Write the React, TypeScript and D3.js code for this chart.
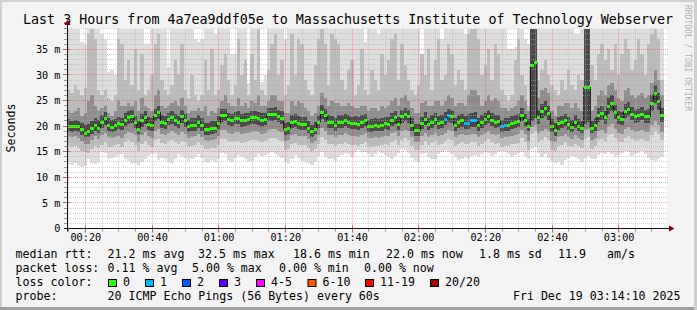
import React from "react";
import * as d3 from "d3";

// ---------------- data ----------------
const TITLE = "Last 3 Hours from 4a7ea9ddf05e to Massachusetts Institute of Technology Webserver";
const START = new Date(2025, 11, 19, 0, 14, 30);
const END = new Date(2025, 11, 19, 3, 14, 30);
const Y_MAX = 39.0625;
const Y_MAJOR = [0, 5, 10, 15, 20, 25, 30, 35];

// median rtt (ms), one per minute
const MEDIAN = [
  20.0, 19.9, 20.0, 19.9, 19.3, 18.6, 18.9, 19.6, 20.2, 19.6, 20.8, 21.5, 20.2, 19.8, 20.2, 20.5, 20.4, 21.1, 21.6, 21.8, 20.7, 19.4, 21.1, 21.7, 20.4, 20.2, 22.1, 22.7, 20.8,
  20.6, 21.3, 21.6, 21.1, 20.7, 21.8, 21.0, 19.9, 20.2, 20.2, 20.8, 20.2, 19.3, 19.3, 19.5, 19.6, 20.5, 22.0, 22.1, 21.3, 21.1, 21.5, 21.5, 21.0, 21.1, 21.3, 21.6, 21.6, 21.5, 21.1,
  21.3, 22.2, 22.2, 22.3, 21.9, 21.5, 19.3, 19.5, 20.8, 20.9, 20.5, 20.4, 20.4, 19.6, 18.9, 19.4, 20.8, 22.7, 22.0, 20.8, 20.7, 20.2, 20.8, 20.8, 21.1, 20.8, 20.5, 20.5, 20.4, 20.8,
  21.1, 19.9, 19.9, 20.2, 20.0, 20.2, 20.5, 20.4, 21.1, 21.6, 20.4, 21.8, 22.2, 21.8, 20.2, 19.1, 19.1, 20.5, 21.3, 20.3, 20.8, 21.3, 20.5, 20.8, 21.3, 22.0, 21.8, 20.2, 20.8,
  21.0, 20.6, 20.6, 21.0, 21.0, 20.2, 20.8, 21.3, 21.9, 21.1, 20.8, 20.9, 19.9, 20.2, 20.2, 20.6, 20.8, 20.9, 22.1, 21.1, 20.0, 31.8, 32.5, 21.6, 22.8, 23.5, 22.5, 19.9, 19.1, 20.5, 20.7,
  21.1, 20.4, 19.8, 20.8, 20.0, 19.6, 27.5, 27.6, 19.6, 20.2, 22.0, 22.5, 21.6, 23.9, 24.5, 22.7, 21.6, 21.3, 22.9, 23.3, 22.3, 21.8, 22.0, 22.3, 21.8, 21.8, 24.4, 26.3, 24.9, 22.0,
];

// samples with 1 of 20 pings lost
const LOSS_ONE = [113, 114, 119, 120, 121, 122, 130, 131];

// smoke: sorted ping ranks (ms)
const P1 = [
  12.6, 12.5, 12.8, 12.2, 12.0, 12.3, 13.5, 12.8, 12.6, 13.0, 14.9, 14.8, 13.5, 13.8, 14.0, 14.4, 14.6, 13.6, 13.2, 12.8, 12.7, 12.5, 13.0, 13.6, 14.2, 14.6, 14.8, 13.4, 13.8,
  13.5, 13.0, 12.8, 13.5, 14.5, 14.2, 13.8, 13.2, 13.5, 14.0, 14.6, 13.8, 13.0, 12.8, 13.3, 12.9, 13.6, 14.8, 14.5, 13.4, 13.0, 13.8, 14.3, 14.0, 13.5, 12.9, 13.2, 14.0, 14.5, 14.2,
  14.3, 14.7, 15.0, 14.5, 14.2, 13.8, 13.0, 12.6, 13.5, 14.3, 13.8, 13.2, 13.0, 12.8, 12.5, 13.0, 14.2, 15.0, 14.0, 13.6, 13.5, 13.2, 14.0, 14.3, 14.8, 14.5, 14.0, 15.0, 15.3, 15.0,
  15.0, 14.6, 14.0, 14.5, 15.2, 14.8, 14.3, 14.0, 13.5, 14.2, 14.8, 15.5, 15.3, 14.8, 13.8, 13.2, 13.0, 14.5, 14.8, 14.0, 13.6, 13.5, 14.5, 14.9, 15.3, 15.0, 14.6, 14.0, 13.4,
  13.6, 13.9, 13.5, 14.2, 14.4, 14.0, 14.6, 15.0, 14.8, 14.2, 14.5, 14.9, 15.2, 15.0, 14.5, 14.0, 14.4, 14.7, 15.0, 14.2, 13.5, 15.5, 16.0, 14.8, 14.0, 14.5, 13.8, 13.2, 12.8, 13.0, 12.5,
  13.4, 13.8, 14.2, 14.0, 13.5, 13.0, 13.8, 14.2, 13.5, 13.6, 14.3, 14.8, 14.5, 15.0, 14.6, 14.0, 14.3, 14.8, 15.2, 14.9, 14.2, 14.6, 14.8, 15.2, 14.5, 13.8, 13.4, 13.2, 13.6, 14.0,
];
const P4 = [
  16.3, 16.0, 16.2, 15.8, 15.2, 15.0, 14.8, 15.5, 16.2, 15.8, 16.4, 16.8, 16.0, 16.0, 16.3, 16.5, 16.0, 16.8, 17.2, 16.9, 16.4, 15.2, 16.6, 17.0, 16.3, 16.0, 17.2, 17.5, 16.7,
  16.6, 17.0, 17.2, 16.9, 16.6, 17.0, 16.8, 16.0, 16.2, 16.4, 16.8, 16.3, 15.6, 15.5, 15.7, 15.8, 16.4, 17.4, 17.5, 17.0, 16.8, 17.1, 17.0, 16.7, 16.9, 17.0, 17.2, 17.3, 17.1, 16.8,
  17.0, 17.5, 17.6, 17.6, 17.3, 17.1, 15.4, 15.6, 16.6, 16.7, 16.4, 16.3, 16.3, 15.8, 15.1, 15.5, 16.5, 17.8, 17.3, 16.6, 16.5, 16.1, 16.6, 16.6, 16.9, 16.6, 16.4, 16.3, 16.2, 16.6,
  16.9, 16.0, 16.0, 16.2, 16.1, 16.3, 16.5, 16.4, 16.9, 17.2, 16.3, 17.3, 17.6, 17.3, 16.2, 15.3, 15.3, 16.4, 17.0, 16.3, 16.7, 17.0, 16.3, 16.6, 17.0, 17.5, 17.3, 16.2, 16.6,
  16.8, 16.5, 16.5, 16.8, 16.8, 16.2, 16.6, 17.0, 17.4, 16.8, 16.6, 16.7, 16.0, 16.2, 16.2, 16.5, 16.6, 16.7, 17.6, 16.8, 15.4, 18.5, 19.0, 16.9, 17.2, 17.8, 17.3, 15.4, 15.2, 16.2, 16.4,
  16.8, 16.2, 15.9, 16.6, 16.1, 15.7, 17.5, 17.8, 15.6, 16.1, 17.2, 17.5, 17.0, 18.2, 18.5, 17.6, 17.0, 16.8, 17.7, 18.0, 17.4, 17.1, 17.2, 17.4, 17.0, 17.1, 18.3, 19.0, 18.4, 17.2,
];
const P7 = [
  18.0, 17.8, 18.0, 17.6, 17.0, 16.6, 16.5, 17.3, 18.0, 17.5, 18.2, 18.6, 17.8, 17.6, 17.9, 18.0, 17.7, 18.5, 18.9, 18.6, 18.2, 16.8, 18.3, 18.8, 18.0, 17.6, 19.0, 19.5, 18.4,
  18.3, 18.7, 19.0, 18.6, 18.3, 18.8, 18.5, 17.7, 17.9, 18.0, 18.4, 17.9, 17.2, 17.0, 17.3, 17.4, 18.0, 19.2, 19.3, 18.7, 18.5, 18.9, 18.8, 18.4, 18.6, 18.7, 18.9, 19.0, 18.8, 18.5,
  18.7, 19.3, 19.4, 19.4, 19.1, 18.9, 17.0, 17.2, 18.3, 18.4, 18.1, 18.0, 18.0, 17.4, 16.7, 17.1, 18.2, 19.6, 19.1, 18.3, 18.2, 17.8, 18.3, 18.3, 18.6, 18.3, 18.1, 18.0, 17.9, 18.3,
  18.6, 17.6, 17.6, 17.8, 17.7, 17.9, 18.1, 18.0, 18.6, 18.9, 18.0, 19.0, 19.3, 19.0, 17.8, 16.9, 16.9, 18.0, 18.7, 17.9, 18.3, 18.7, 18.0, 18.3, 18.7, 19.2, 19.0, 17.8, 18.3,
  18.5, 18.2, 18.2, 18.5, 18.5, 17.8, 18.3, 18.7, 19.1, 18.5, 18.3, 18.4, 17.6, 17.8, 17.8, 18.1, 18.3, 18.4, 19.3, 18.5, 17.0, 19.8, 20.2, 18.6, 19.0, 19.5, 19.0, 17.0, 16.8, 17.9, 18.1,
  18.5, 17.9, 17.5, 18.3, 17.7, 17.3, 19.2, 19.5, 17.2, 17.7, 19.0, 19.3, 18.7, 20.0, 20.4, 19.4, 18.7, 18.5, 19.5, 19.8, 19.2, 18.8, 19.0, 19.2, 18.8, 18.8, 20.2, 21.0, 20.3, 18.9,
];
const P9 = [
  19.0, 18.9, 19.0, 18.8, 18.3, 17.8, 17.9, 18.5, 19.1, 18.6, 19.6, 20.3, 19.1, 18.8, 19.1, 19.4, 19.3, 20.0, 20.4, 20.6, 19.6, 18.4, 19.9, 20.5, 19.3, 19.1, 20.9, 21.4, 19.7,
  19.5, 20.2, 20.4, 20.0, 19.6, 20.6, 19.9, 18.9, 19.1, 19.1, 19.7, 19.1, 18.3, 18.3, 18.5, 18.6, 19.4, 20.8, 20.9, 20.2, 20.0, 20.4, 20.4, 19.9, 20.0, 20.2, 20.4, 20.5, 20.3, 20.0,
  20.2, 21.0, 21.0, 21.1, 20.8, 20.4, 18.3, 18.4, 19.7, 19.8, 19.4, 19.3, 19.3, 18.6, 17.9, 18.4, 19.7, 21.4, 20.8, 19.7, 19.6, 19.1, 19.7, 19.7, 20.0, 19.7, 19.4, 19.4, 19.3, 19.7,
  20.0, 18.9, 18.9, 19.1, 19.0, 19.1, 19.4, 19.3, 20.0, 20.4, 19.3, 20.6, 21.0, 20.6, 19.1, 18.1, 18.1, 19.4, 20.2, 19.2, 19.7, 20.2, 19.4, 19.7, 20.2, 20.8, 20.6, 19.1, 19.7,
  19.9, 19.5, 19.5, 19.9, 19.9, 19.1, 19.7, 20.2, 20.7, 20.0, 19.7, 19.8, 18.9, 19.1, 19.1, 19.5, 19.7, 19.8, 20.9, 20.0, 19.0, 21.0, 21.5, 20.4, 21.5, 22.0, 21.2, 18.8, 18.0, 19.3, 19.6,
  20.0, 19.3, 18.8, 19.7, 19.0, 18.6, 20.5, 20.8, 18.6, 19.1, 20.8, 21.2, 20.4, 22.4, 22.9, 21.4, 20.4, 20.2, 21.6, 22.0, 21.1, 20.6, 20.8, 21.1, 20.6, 20.6, 22.9, 24.5, 23.2, 20.8,
];
const P12 = [
  21.3, 21.0, 21.2, 21.0, 20.6, 20.2, 20.5, 21.0, 21.5, 21.1, 22.2, 22.8, 21.6, 21.2, 21.4, 21.8, 21.6, 22.5, 23.0, 23.2, 22.0, 21.0, 22.4, 23.0, 21.8, 21.5, 23.4, 24.0, 22.2,
  22.0, 22.6, 23.0, 22.4, 22.0, 23.2, 22.3, 21.2, 21.5, 21.6, 22.1, 21.5, 20.7, 20.6, 20.9, 21.0, 21.9, 23.3, 23.4, 22.6, 22.4, 22.8, 22.9, 22.3, 22.5, 22.6, 23.0, 22.9, 22.8, 22.5,
  22.6, 23.6, 23.5, 23.7, 23.2, 22.9, 20.7, 20.8, 22.1, 22.3, 21.9, 21.7, 21.8, 21.0, 20.3, 20.8, 22.2, 24.1, 23.3, 22.2, 22.0, 21.6, 22.1, 22.2, 22.4, 22.1, 21.8, 21.9, 21.7, 22.1,
  22.4, 21.2, 21.3, 21.5, 21.3, 21.6, 21.8, 21.7, 22.5, 23.0, 21.8, 23.1, 23.6, 23.2, 21.5, 20.4, 20.5, 21.8, 22.7, 21.6, 22.2, 22.6, 21.9, 22.1, 22.7, 23.4, 23.1, 21.6, 22.1,
  22.3, 21.9, 22.4, 22.6, 22.7, 21.6, 22.1, 22.6, 23.2, 22.5, 22.1, 22.2, 21.2, 21.5, 21.5, 21.9, 22.1, 22.3, 23.5, 22.4, 21.4, 40, 40, 23.2, 24.3, 25.0, 24.0, 21.3, 20.6, 21.8, 22.0,
  22.4, 21.8, 21.2, 22.1, 21.4, 21.0, 40, 40, 21.0, 21.6, 23.5, 24.0, 23.0, 25.4, 26.0, 24.2, 23.0, 22.7, 24.4, 24.8, 23.8, 23.2, 23.4, 23.8, 23.2, 23.3, 26.0, 28.0, 26.5, 23.5,
];
const P14 = [
  23, 22.5, 23, 23.5, 22, 22.5, 25, 26, 24, 23,
  23.5, 24, 22.5, 22, 23, 25, 24, 24, 24.5, 24,
  25, 23, 25.5, 24, 23.5, 23, 26, 27, 24, 23.5,
  24, 24.5, 25, 24, 25.5, 24, 22.5, 23, 23, 23.5,
  23, 24, 22, 23, 22.5, 23.5, 25, 26, 24.5, 24,
  24, 25.5, 24, 24.5, 23.5, 25, 24.5, 26, 24, 24,
  25, 26, 26, 25, 25, 22.5, 22.5, 25, 24, 25,
  24.5, 23.5, 23, 22, 22.5, 24, 26.5, 25.5, 24, 25,
  24.5, 24.5, 24, 24, 24.5, 24, 23.5, 23.5, 24, 24,
  23, 23.5, 23.5, 23, 24, 23.5, 24, 25, 25.5, 24,
  25.5, 26, 25, 23.5, 22.5, 22.5, 24.5, 25, 24, 24,
  25, 25, 24, 25, 26, 25.5, 24, 24.5, 24.5, 24,
  26, 27, 27, 26, 24, 25, 26, 25, 25.5, 25,
  23.5, 23.5, 23, 23.5, 24, 25, 26, 25, 23, 40,
  40, 25.5, 27, 27.5, 26.5, 23, 22, 24, 24, 24.5,
  24.5, 23.5, 24.5, 23.5, 23, 40, 40, 23, 24, 26,
  27, 26, 28, 28.5, 27, 25.5, 25, 27, 27.5, 26,
  25.5, 26, 26.5, 25.5, 26, 28.5, 31, 29, 26,
];
const P17 = [
  27, 26.5, 28, 27, 26, 27.5, 38, 39, 37, 27,
  26, 27, 25.5, 25, 26, 37, 36, 29, 33, 28,
  35, 27, 34, 26, 27, 30, 36, 38, 29, 27,
  26, 28, 33, 30, 36, 27, 25.5, 30, 26, 25,
  26, 33, 27, 35, 26, 27, 32, 34, 29, 26,
  28, 37, 30, 33, 26, 34, 29, 39, 27, 26,
  31, 36, 38, 30, 33, 26, 28, 38, 30, 37,
  36, 29, 27, 26, 32, 37, 39, 36, 28, 38,
  37, 36, 29, 27, 31, 33, 26, 28, 35, 27,
  26, 31, 29, 27, 34, 30, 33, 37, 38, 29,
  36, 32, 29, 27, 26, 28, 34, 30, 35, 27,
  33, 37, 29, 30, 36, 34, 28, 31, 29, 27,
  38, 39, 39, 37, 30, 32, 35, 29, 36, 34,
  27, 26, 25, 26, 33, 37, 30, 28, 24, 40,
  40, 29, 31, 33, 30, 28, 27, 26, 29, 27,
  31, 28, 27, 30, 29, 40, 40, 32, 29, 34,
  36, 33, 35, 31, 36, 30, 34, 37, 35, 31,
  33, 37, 34, 30, 36, 38, 39, 37, 29,
];
const P20 = [
  40, 40, 40, 40, 36.5, 36, 40, 40, 40, 40,
  38, 37, 30.5, 31, 30, 40, 40, 40, 40, 40,
  40, 40, 40, 36, 36, 40, 40, 40, 40, 40,
  31.5, 40, 40, 40, 40, 40, 40, 40, 37, 36.5,
  37, 40, 40, 40, 38, 40, 40, 40, 40, 34,
  34, 40, 40, 40, 28.5, 40, 40, 40, 28.7, 30,
  40, 40, 40, 40, 40, 37, 40, 40, 40, 40,
  40, 40, 40, 40, 40, 40, 40, 40, 40, 40,
  40, 40, 40, 40, 40, 40, 40, 40, 40, 36.5,
  40, 40, 40, 38, 40, 40, 40, 40, 40, 40,
  40, 40, 40, 40, 40, 40, 31, 40, 40, 40,
  40, 40, 37, 40, 40, 40, 40, 40, 40, 38,
  40, 40, 40, 40, 40, 40, 40, 40, 40, 40,
  40, 40, 35, 35, 35.5, 40, 40, 37, 36, 40,
  40, 40, 40, 40, 40, 40, 40, 40, 40, 40,
  40, 40, 38, 38, 40, 40, 40, 40, 40, 40,
  40, 40, 40, 40, 40, 40, 40, 40, 40, 40,
  40, 40, 40, 40, 40, 40, 40, 40, 40,
];

const SMOKE_COLORS = ["#dddddd", "#bcbcbc", "#8e8e8e", "#4a4a4a"];
const LOSS_LABELS = ["0", "1", "2", "3", "4-5", "6-10", "11-19", "20/20"];
const LOSS_COLORS = ["#26ff00", "#00b8ff", "#0059ff", "#5e00ff", "#ff00ff", "#ff5500", "#ff0000", "#a00000"];

const RTT_ITEMS = ["median rtt:", "21.2 ms avg", "32.5 ms max", "18.6 ms min", "22.0 ms now", "1.8 ms sd", "11.9", "am/s"];
const LOSS_ITEMS = ["packet loss:", "0.11 % avg", "5.00 % max", "0.00 % min", "0.00 % now"];
const PROBE_ITEMS = ["probe:", "20 ICMP Echo Pings (56 Bytes) every 60s"];
const STAMP = "Fri Dec 19 03:14:10 2025";

// ---------------- layout ----------------
const W = 697;
const H = 310;
const PX0 = 67;
const PX1 = 667;
const PY0 = 228.5;
const PY1 = 28.5;
const MONO = "'DejaVu Sans Mono', 'Liberation Mono', monospace";
const RTT_X = [15.6, 107.6, 198, 293, 386, 479, 558, 607];
const LOSS_X = [15.6, 107.6, 192, 279, 364];
const BOX_X = [108, 145, 182, 219, 256, 307.5, 365, 430];

const crisp = (v: number) => Math.round(v - 0.5) + 0.5;

export default function App() {
  const x = d3.scaleTime().domain([START, END]).range([PX0, PX1]);
  const y = d3.scaleLinear().domain([0, Y_MAX]).range([PY0, PY1]);
  const n = Math.min(MEDIAN.length, P1.length, P4.length, P7.length, P9.length, P12.length, P14.length, P17.length, P20.length);
  const sx = (i: number) => x(d3.timeMinute.offset(START, i));
  const idx = d3.range(n + 1);
  const at = (arr: number[], i: number) => arr[Math.min(i, n - 1)];
  const clampTop = (v: number) => Math.min(v, Y_MAX);

  const pairs: [number[], number[]][] = [
    [P1, P20],
    [P4, P17],
    [P7, P14],
    [P9, P12],
  ];
  const smokePaths = pairs.map(([lo, hi]) =>
    d3
      .area<number>()
      .curve(d3.curveStepAfter)
      .x((i) => sx(i))
      .y0((i) => y(at(lo, i)))
      .y1((i) => y(clampTop(at(hi, i))))(idx) as string
  );
  const medianPath = d3
    .line<number>()
    .curve(d3.curveStepAfter)
    .x((i) => sx(i))
    .y((i) => y(at(MEDIAN, i)))(idx) as string;

  const minorY = d3.range(1, 40).filter((v) => v % 5 !== 0 && v <= Y_MAX);
  const majorY = Y_MAJOR.filter((v) => v > 0);
  const timeTicks = d3.timeMinute.every(5)!.range(START, END);
  const majorT = timeTicks.filter((t) => t.getMinutes() % 20 === 0);
  const minorT = timeTicks.filter((t) => t.getMinutes() % 20 !== 0);
  const fmt = d3.timeFormat("%H:%M");
  const lossSet = new Set(LOSS_ONE);

  const gridMinor = "rgba(175,175,175,0.55)";
  const gridMajor = "rgba(255,40,40,0.42)";

  return (
    <svg
      width={W}
      height={H}
      viewBox={`0 0 ${W} ${H}`}
      style={{ position: "absolute", left: 0, top: 0, display: "block" }}
      fontFamily={MONO}
    >
      <rect x={0} y={0} width={W} height={H} fill="#f3f3f3" />
      <line x1={0} y1={1} x2={W} y2={1} stroke="#cfcfcf" strokeWidth={2} />
      <line x1={1} y1={0} x2={1} y2={H} stroke="#cfcfcf" strokeWidth={2} />
      <line x1={0} y1={H - 1.5} x2={W} y2={H - 1.5} stroke="#9e9e9e" strokeWidth={3} />
      <line x1={W - 1.5} y1={0} x2={W - 1.5} y2={H} stroke="#cfcfcf" strokeWidth={3} />

      <text x={348} y={23.5} fontSize={13.33} textAnchor="middle" fill="#000">
        {TITLE}
      </text>
      <text x={685} y={5} fontSize={8} fill="#b0b0b0" transform="rotate(90 685 5)">
        RRDTOOL / TOBI OETIKER
      </text>

      <rect x={PX0} y={PY1 - 0.5} width={PX1 - PX0} height={PY0 - PY1 + 0.5} fill="#ffffff" />

      <defs>
        <clipPath id="plotclip">
          <rect x={PX0} y={PY1 - 0.5} width={PX1 - PX0} height={PY0 - PY1 + 0.5} />
        </clipPath>
      </defs>

      <g clipPath="url(#plotclip)">
        {smokePaths.map((d, k) => (
          <path key={k} d={d} fill={SMOKE_COLORS[k]} shapeRendering="crispEdges" />
        ))}
        <path d={medianPath} fill="none" stroke="#111" strokeWidth={1} />
        {MEDIAN.slice(0, n).map((v, i) => (
          <rect
            key={i}
            x={sx(i)}
            y={y(v) - 1.5}
            width={sx(i + 1) - sx(i)}
            height={3}
            fill={lossSet.has(i) ? LOSS_COLORS[1] : LOSS_COLORS[0]}
            shapeRendering="crispEdges"
          />
        ))}
      </g>

      {/* grid */}
      <g strokeDasharray="1,1" strokeWidth={1}>
        {minorY.map((v) => (
          <line key={"my" + v} x1={PX0} x2={PX1 + 2} y1={crisp(y(v))} y2={crisp(y(v))} stroke={gridMinor} />
        ))}
        {minorT.map((t, i) => (
          <line key={"mx" + i} x1={crisp(x(t))} x2={crisp(x(t))} y1={PY1} y2={PY0} stroke={gridMinor} />
        ))}
        {majorY.map((v) => (
          <line key={"My" + v} x1={PX0} x2={PX1 + 2} y1={crisp(y(v))} y2={crisp(y(v))} stroke={gridMajor} />
        ))}
        {majorT.map((t, i) => (
          <line key={"Mx" + i} x1={crisp(x(t))} x2={crisp(x(t))} y1={PY1} y2={PY0} stroke={gridMajor} />
        ))}
      </g>

      {/* tick marks */}
      <g strokeWidth={1}>
        {minorY.map((v) => (
          <line key={"ty" + v} x1={64} x2={67} y1={crisp(y(v))} y2={crisp(y(v))} stroke="#9a9a9a" />
        ))}
        {majorY.map((v) => (
          <line key={"tY" + v} x1={63} x2={70} y1={crisp(y(v))} y2={crisp(y(v))} stroke="#c06060" />
        ))}
        {minorT.map((t, i) => (
          <line key={"tx" + i} x1={crisp(x(t))} x2={crisp(x(t))} y1={PY0} y2={PY0 + 3} stroke="#9a9a9a" />
        ))}
        {majorT.map((t, i) => (
          <line key={"tX" + i} x1={crisp(x(t))} x2={crisp(x(t))} y1={PY0 - 3} y2={PY0 + 4} stroke="#c06060" />
        ))}
      </g>

      {/* axes */}
      <line x1={67.5} x2={67.5} y1={PY0 + 3} y2={24} stroke="#111" strokeWidth={1} />
      <path d="M64.5,25 L70.5,25 L67.5,19.5 Z" fill="#800000" />
      <line x1={64} x2={670} y1={PY0} y2={PY0} stroke="#111" strokeWidth={1} />
      <path d="M669,225.5 L669,231.5 L674.5,228.5 Z" fill="#800000" />

      {/* y labels */}
      {Y_MAJOR.map((v) => (
        <text key={"yl" + v} x={60.5} y={y(v) + 3.6} fontSize={10.2} textAnchor="end" fill="#000">
          {v === 0 ? "0" : `${v} m`}
        </text>
      ))}
      {/* x labels */}
      {majorT.map((t, i) => (
        <text key={"xl" + i} x={x(t) + 0.5} y={241} fontSize={10.2} textAnchor="middle" fill="#000">
          {fmt(t)}
        </text>
      ))}
      <text x={15} y={128} fontSize={11.6} textAnchor="middle" transform="rotate(-90 15 128)" fill="#000">
        Seconds
      </text>

      {/* legend */}
      <g fontSize={11.6} fill="#000">
        {RTT_ITEMS.map((s, i) => (
          <text key={"r" + i} x={RTT_X[i]} y={258.4} style={{ whiteSpace: "pre" }}>
            {s}
          </text>
        ))}
        {LOSS_ITEMS.map((s, i) => (
          <text key={"l" + i} x={LOSS_X[i]} y={272.3} style={{ whiteSpace: "pre" }}>
            {s}
          </text>
        ))}
        <text x={15.6} y={286.2}>loss color:</text>
        {LOSS_LABELS.map((s, i) => (
          <g key={"lc" + i}>
            <rect x={BOX_X[i] + 0.5} y={279.5} width={8} height={7} fill={LOSS_COLORS[i]} stroke="#000" strokeWidth={1} />
            <text x={BOX_X[i] + 15} y={286.2}>
              {s}
            </text>
          </g>
        ))}
        {PROBE_ITEMS.map((s, i) => (
          <text key={"p" + i} x={i === 0 ? 15.6 : 107.6} y={300.1}>
            {s}
          </text>
        ))}
        <text x={680.5} y={300.1} textAnchor="end">
          {STAMP}
        </text>
      </g>
    </svg>
  );
}
